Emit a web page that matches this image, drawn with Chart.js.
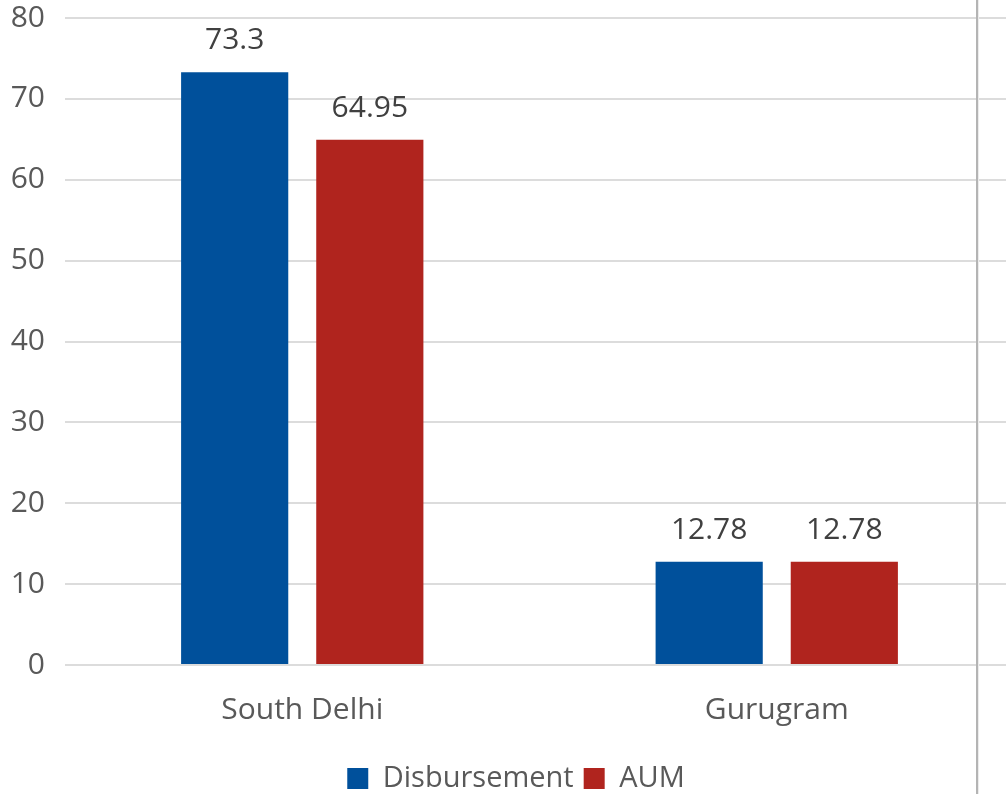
<!DOCTYPE html>
<html>
<head>
<meta charset="utf-8">
<title>Disbursement and AUM by branch</title>
<script src="https://cdn.jsdelivr.net/npm/chart.js@4/dist/chart.umd.min.js"></script>
<style>
  html, body { margin: 0; padding: 0; background: #ffffff; }
  body { width: 1006px; height: 794px; overflow: hidden; position: relative; }
  #wrap { position: absolute; left: 0; top: 0; width: 1014px; height: 803px; }
  #divider { position: absolute; left: 976px; top: 0; width: 2px; height: 794px; background: #b4b4b4; box-shadow: 1px 0 0 #ececec; }
</style>
</head>
<body>
<div id="wrap"><canvas id="chart" width="1014" height="803"></canvas></div>
<div id="divider"></div>
<script>
// Branch figures (Rs. crore)
const categories = ['South Delhi', 'Gurugram'];
const disbursement = [73.3, 12.78];
const aum = [64.95, 12.78];
const seriesNames = ['Disbursement', 'AUM'];
const yTicks = [0, 10, 20, 30, 40, 50, 60, 70, 80];

const FONT = '"Open Sans", "Noto Sans", sans-serif';

// Value printed above each bar
const barValueLabels = {
  id: 'barValueLabels',
  afterDatasetsDraw(chart) {
    const ctx = chart.ctx;
    ctx.save();
    ctx.font = '30px ' + FONT;
    ctx.fillStyle = '#404040';
    ctx.textAlign = 'center';
    ctx.textBaseline = 'alphabetic';
    chart.data.datasets.forEach((ds, i) => {
      const meta = chart.getDatasetMeta(i);
      meta.data.forEach((bar, j) => {
        ctx.fillText(String(ds.data[j]), bar.x, bar.y - 23);
      });
    });
    ctx.restore();
  }
};

// Nudge the legend row a little to the right of the canvas centre
const legendOffset = {
  id: 'legendOffset',
  afterLayout(chart) {
    if (chart.legend) {
      chart.legend.left += 9;
      chart.legend.right += 9;
    }
  }
};

new Chart(document.getElementById('chart'), {
  type: 'bar',
  data: {
    labels: categories,
    datasets: [
      { label: seriesNames[0], data: disbursement, backgroundColor: '#00509b', categoryPercentage: 0.5696, barPercentage: 0.793 },
      { label: seriesNames[1], data: aum, backgroundColor: '#b0241e', categoryPercentage: 0.5696, barPercentage: 0.793 }
    ]
  },
  options: {
    responsive: false,
    animation: false,
    events: [],
    layout: { padding: { top: 18, left: 0, right: 0, bottom: 0 } },
    plugins: {
      tooltip: { enabled: false },
      legend: {
        position: 'bottom',
        labels: {
          font: { family: FONT, size: 29 },
          color: '#595959',
          boxWidth: 21,
          boxHeight: 21,
          padding: 10
        }
      }
    },
    scales: {
      x: {
        grid: { display: false, drawTicks: false },
        border: { display: false },
        ticks: { font: { family: FONT, size: 30 }, color: '#595959', padding: 27 },
        afterFit(scale) { scale.height = 89; }
      },
      y: {
        min: 0,
        max: 80,
        afterBuildTicks(scale) { scale.ticks = yTicks.map(v => ({ value: v })); },
        grid: { color: '#dcdcdc', lineWidth: 2, drawTicks: false },
        border: { display: false },
        ticks: { font: { family: FONT, size: 30 }, color: '#595959', padding: 20 },
        afterFit(scale) {
          scale.width = 65;
          scale.paddingTop = 0;
          scale.paddingBottom = 0;
        }
      }
    }
  },
  plugins: [barValueLabels, legendOffset]
});
</script>
</body>
</html>
